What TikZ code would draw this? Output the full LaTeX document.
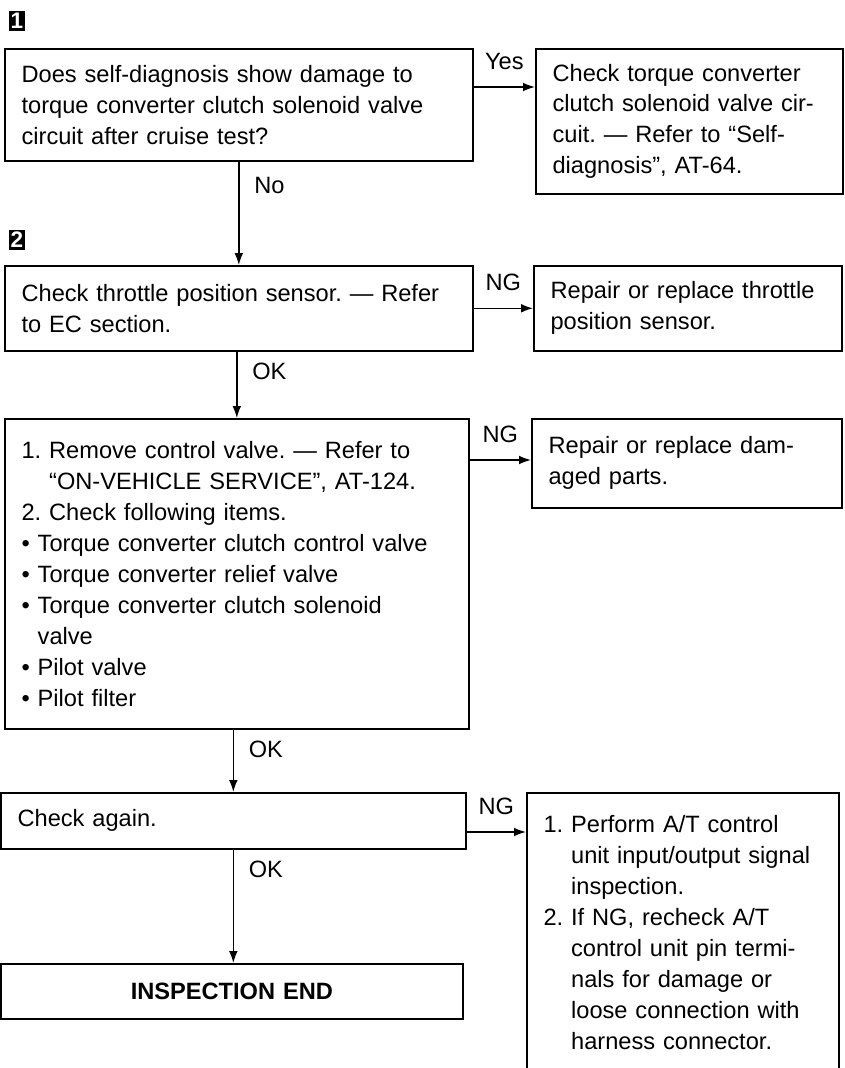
\documentclass[tikz,border=0pt]{standalone}
\usepackage{fontspec}
\setmainfont{Liberation Sans}
\usetikzlibrary{arrows.meta, positioning, calc}
\frenchspacing

\begin{document}
\begin{tikzpicture}[x=0.025cm, y=-0.025cm,
    every node/.style={font=\fontsize{16.8}{22}\selectfont},
    box/.style={draw, line width=1.1pt, rectangle, anchor=north west, align=left,
        inner xsep=0.42cm, inner ysep=0pt, text width=#1},
    stepmark/.style={fill=black, text=white, minimum width=0.4cm, minimum height=0.5cm,
        inner sep=0pt, font=\fontsize{16}{16}\selectfont\bfseries},
    flow/.style={-{Latex[length=0.3cm, width=0.22cm]}, line width=1.1pt}]
    \useasboundingbox (0,0) rectangle (844,1068);

    % step 1
    \node[stepmark] (s1) at (17,21) {1};
    \node[box=10.86cm, minimum height=2.8cm] (A) at (4,48)
        {Does self-diagnosis show damage to\\
         torque converter clutch solenoid valve\\
         circuit after cruise test?};
    \node[box=6.835cm, minimum height=3.625cm] (B) at (535,48)
        {Check torque converter\\
         clutch solenoid valve cir-\\
         cuit. — Refer to “Self-\\
         diagnosis”, AT-64.};

    % step 2
    \node[stepmark] (s2) at (17,240) {2};
    \node[box=10.86cm, minimum height=2.125cm] (C) at (4,265)
        {Check throttle position sensor. — Refer\\
         to EC section.};
    \node[box=6.86cm, minimum height=2.125cm] (D) at (533,265)
        {Repair or replace throttle\\
         position sensor.};
    \node[box=10.76cm, minimum height=7.75cm] (E) at (4,418)
        {1. Remove control valve. — Refer to\\
         \phantom{1.~}“ON-VEHICLE SERVICE”, AT-124.\\
         2. Check following items.\\
         • Torque converter clutch control valve\\
         • Torque converter relief valve\\
         • Torque converter clutch solenoid\\
         \phantom{•~}valve\\
         • Pilot valve\\
         • Pilot filter};
    \node[box=6.91cm, minimum height=2.225cm] (F) at (531,418)
        {Repair or replace dam-\\
         aged parts.};
    \node[box=10.785cm, minimum height=1.4cm] (G) at (0,792)
        {Check again.};
    \node[box=10.71cm, minimum height=1.375cm, align=center, font=\fontsize{16.8}{22}\selectfont\bfseries] (H) at (0,963)
        {INSPECTION END};
    \node[box=6.96cm, minimum height=7cm] (I) at (526,792)
        {1. Perform A/T control\\
         \phantom{1.~}unit input/output signal\\
         \phantom{1.~}inspection.\\
         2. If NG, recheck A/T\\
         \phantom{2.~}control unit pin termi-\\
         \phantom{2.~}nals for damage or\\
         \phantom{2.~}loose connection with\\
         \phantom{2.~}harness connector.};

    % connections
    \draw[flow] ($(A.north east)+(0,39)$) coordinate (ya) -- node[above=0.3cm] {Yes} (ya -| B.west);
    \draw[flow] (A.south) -- (C.north) node[pos=0, anchor=north west, xshift=0.25cm, yshift=-0.25cm] {No};
    \draw[flow] (C.east) -- node[above=0.3cm] {NG} (C.east -| D.west);
    \draw[flow] (C.south -| E.north) -- (E.north) node[pos=0, anchor=north west, xshift=0.25cm, yshift=-0.15cm] {OK};
    \draw[flow] ($(E.north east)+(0,42)$) coordinate (ye) -- node[above=0.3cm] {NG} (ye -| F.west);
    \draw[flow] (E.south -| G.north) -- (G.north) node[pos=0, anchor=north west, xshift=0.25cm, yshift=-0.15cm] {OK};
    \draw[flow] ($(G.north east)+(0,40)$) coordinate (yg) -- node[above=0.3cm] {NG} (yg -| I.west);
    \draw[flow] (G.south) -- (G.south |- H.north) node[pos=0, anchor=north west, xshift=0.25cm, yshift=-0.15cm] {OK};
\end{tikzpicture}
\end{document}
